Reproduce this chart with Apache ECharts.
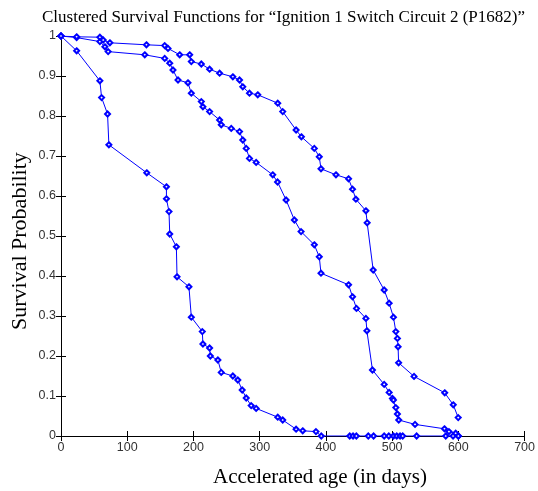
<!DOCTYPE html>
<html>
<head>
<meta charset="utf-8">
<script src="https://cdn.jsdelivr.net/npm/echarts@6/dist/echarts.min.js"></script>
<style>html,body{margin:0;padding:0;background:#fff;}#c{width:538px;height:491px;}</style>
</head>
<body>
<div id="c"></div>
<script>
var titleText = 'Clustered Survival Functions for \u201cIgnition 1 Switch Circuit 2 (P1682)\u201d';
var xName = 'Accelerated age (in days)';
var yName = 'Survival Probability';
var xTicks = [0, 100, 200, 300, 400, 500, 600, 700];
var yTicks = [0, 0.1, 0.2, 0.3, 0.4, 0.5, 0.6, 0.7, 0.8, 0.9, 1];

var clusterFast = [
  [0,1.0],[23.6,0.963],[58.7,0.888],[61.3,0.846],[70.3,0.805],[72.3,0.728],[129.5,0.658],
  [159.2,0.623],[159.2,0.593],[163.1,0.561],[164.2,0.505],[174.2,0.473],[175.2,0.398],
  [193.2,0.373],[196.8,0.297],[213.4,0.261],[214.3,0.23],[224.4,0.22],[225.5,0.2],
  [236.9,0.19],[242,0.159],[259.5,0.15],[267,0.14],[273.6,0.115],[279.7,0.095],
  [287.2,0.076],[294.7,0.069],[327.3,0.047],[334.8,0.04],[355,0.017],[365,0.013],
  [385,0.011],[393,0],[436,0],[441,0],[446,0],[464,0],[472,0],[488,0],[495,0],[502,0],
  [507,0],[512,0],[516,0],[537,0],[581,0],[592,0],[600,0]
];
var clusterMid = [
  [0,1],[23.6,0.996],[58.7,0.986],[66.3,0.973],[71.2,0.961],[126.5,0.953],[156.6,0.944],
  [164.2,0.932],[169.1,0.915],[176.7,0.89],[191.7,0.883],[196.8,0.857],[211.9,0.836],
  [214.3,0.823],[224.4,0.811],[239.5,0.79],[242,0.778],[257.1,0.769],[269.6,0.761],
  [274.5,0.74],[279.7,0.719],[284.6,0.694],[294.7,0.684],[319.7,0.653],[327,0.635],
  [339.9,0.59],[352.4,0.54],[362.5,0.511],[382.5,0.478],[390,0.448],[392.6,0.407],
  [434.2,0.378],[440.2,0.348],[446.2,0.319],[460.4,0.294],[461.9,0.263],[470.3,0.165],
  [488,0.129],[495.5,0.109],[500.5,0.094],[502,0.09],[505.6,0.071],[508,0.055],
  [510,0.04],[534.6,0.029],[579,0.018],[585.8,0.011],[596,0.007],[600,0]
];
var clusterSlow = [
  [0,1],[23.6,0.998],[58.7,0.997],[63.7,0.99],[73.8,0.983],[129,0.978],[156.6,0.976],
  [161.6,0.969],[179.2,0.953],[194.3,0.953],[196.8,0.936],[211.9,0.93],[224.4,0.917],
  [239.5,0.907],[259.5,0.898],[269.6,0.89],[274.5,0.873],[284.6,0.857],[297.1,0.853],
  [327.3,0.832],[334.8,0.811],[355,0.765],[363,0.748],[382.5,0.719],[390,0.698],
  [392.6,0.668],[415.2,0.653],[434.2,0.643],[440.2,0.617],[445.3,0.592],[460.4,0.563],
  [462.3,0.533],[471.4,0.415],[488,0.365],[495.5,0.332],[502,0.297],[505.6,0.261],
  [508,0.244],[509,0.223],[509.8,0.183],[533.1,0.149],[579.4,0.108],[592.3,0.078],
  [599.8,0.046]
];

var chart = echarts.init(document.getElementById('c'), null, {renderer: 'canvas'});
function fmtY(v){ return String(Math.round(v*10)/10); }
function mkSeries(d){
  return {
    type: 'line', data: d, xAxisIndex: 0, yAxisIndex: 0,
    symbol: 'emptyDiamond', symbolSize: 5, showAllSymbol: true,
    lineStyle: {color: '#0000ff', width: 1},
    itemStyle: {color: '#0000ff', borderColor: '#0000ff', borderWidth: 1},
    emphasis: {disabled: true}, z: 3
  };
}
var axisCommon = {
  axisLine: {show: true, lineStyle: {color: '#000', width: 1}},
  axisTick: {show: true, inside: true, length: 5, lineStyle: {color: '#000', width: 1}},
  splitLine: {show: false}
};
var labelStyle = {fontFamily: 'Liberation Sans', fontSize: 12.5, color: '#333', margin: 5};
chart.setOption({
  animation: false,
  backgroundColor: '#fff',
  title: {
    text: titleText, left: 37, top: 4,
    textStyle: {fontFamily: 'Liberation Serif', fontSize: 17, fontWeight: 'normal', color: '#000'}
  },
  graphic: [
    {type: 'text', left: 213, top: 467, silent: true,
     style: {text: xName, font: '21px "Liberation Serif"', fill: '#000'}},
    {type: 'text', x: 9, y: 330, rotation: Math.PI/2, silent: true,
     style: {text: yName, font: '22px "Liberation Serif"', fill: '#000', verticalAlign: 'top'}}
  ],
  grid: {left: 61, right: 12, top: 36, bottom: 55, containLabel: false},
  xAxis: [
    Object.assign({
      type: 'value', min: xTicks[0], max: xTicks[xTicks.length-1], interval: 100,
      axisLabel: labelStyle
    }, axisCommon),
    Object.assign({
      type: 'value', position: 'top', min: 0, max: 700, interval: 100,
      axisLabel: {show: false}
    }, axisCommon)
  ],
  yAxis: [
    Object.assign({
      type: 'value', min: yTicks[0], max: yTicks[yTicks.length-1], interval: 0.1,
      axisLabel: Object.assign({formatter: fmtY}, labelStyle)
    }, axisCommon),
    Object.assign({
      type: 'value', position: 'right', min: 0, max: 1, interval: 0.1,
      axisLabel: {show: false}
    }, axisCommon)
  ],
  series: [mkSeries(clusterFast), mkSeries(clusterMid), mkSeries(clusterSlow)]
});
</script>
</body>
</html>
